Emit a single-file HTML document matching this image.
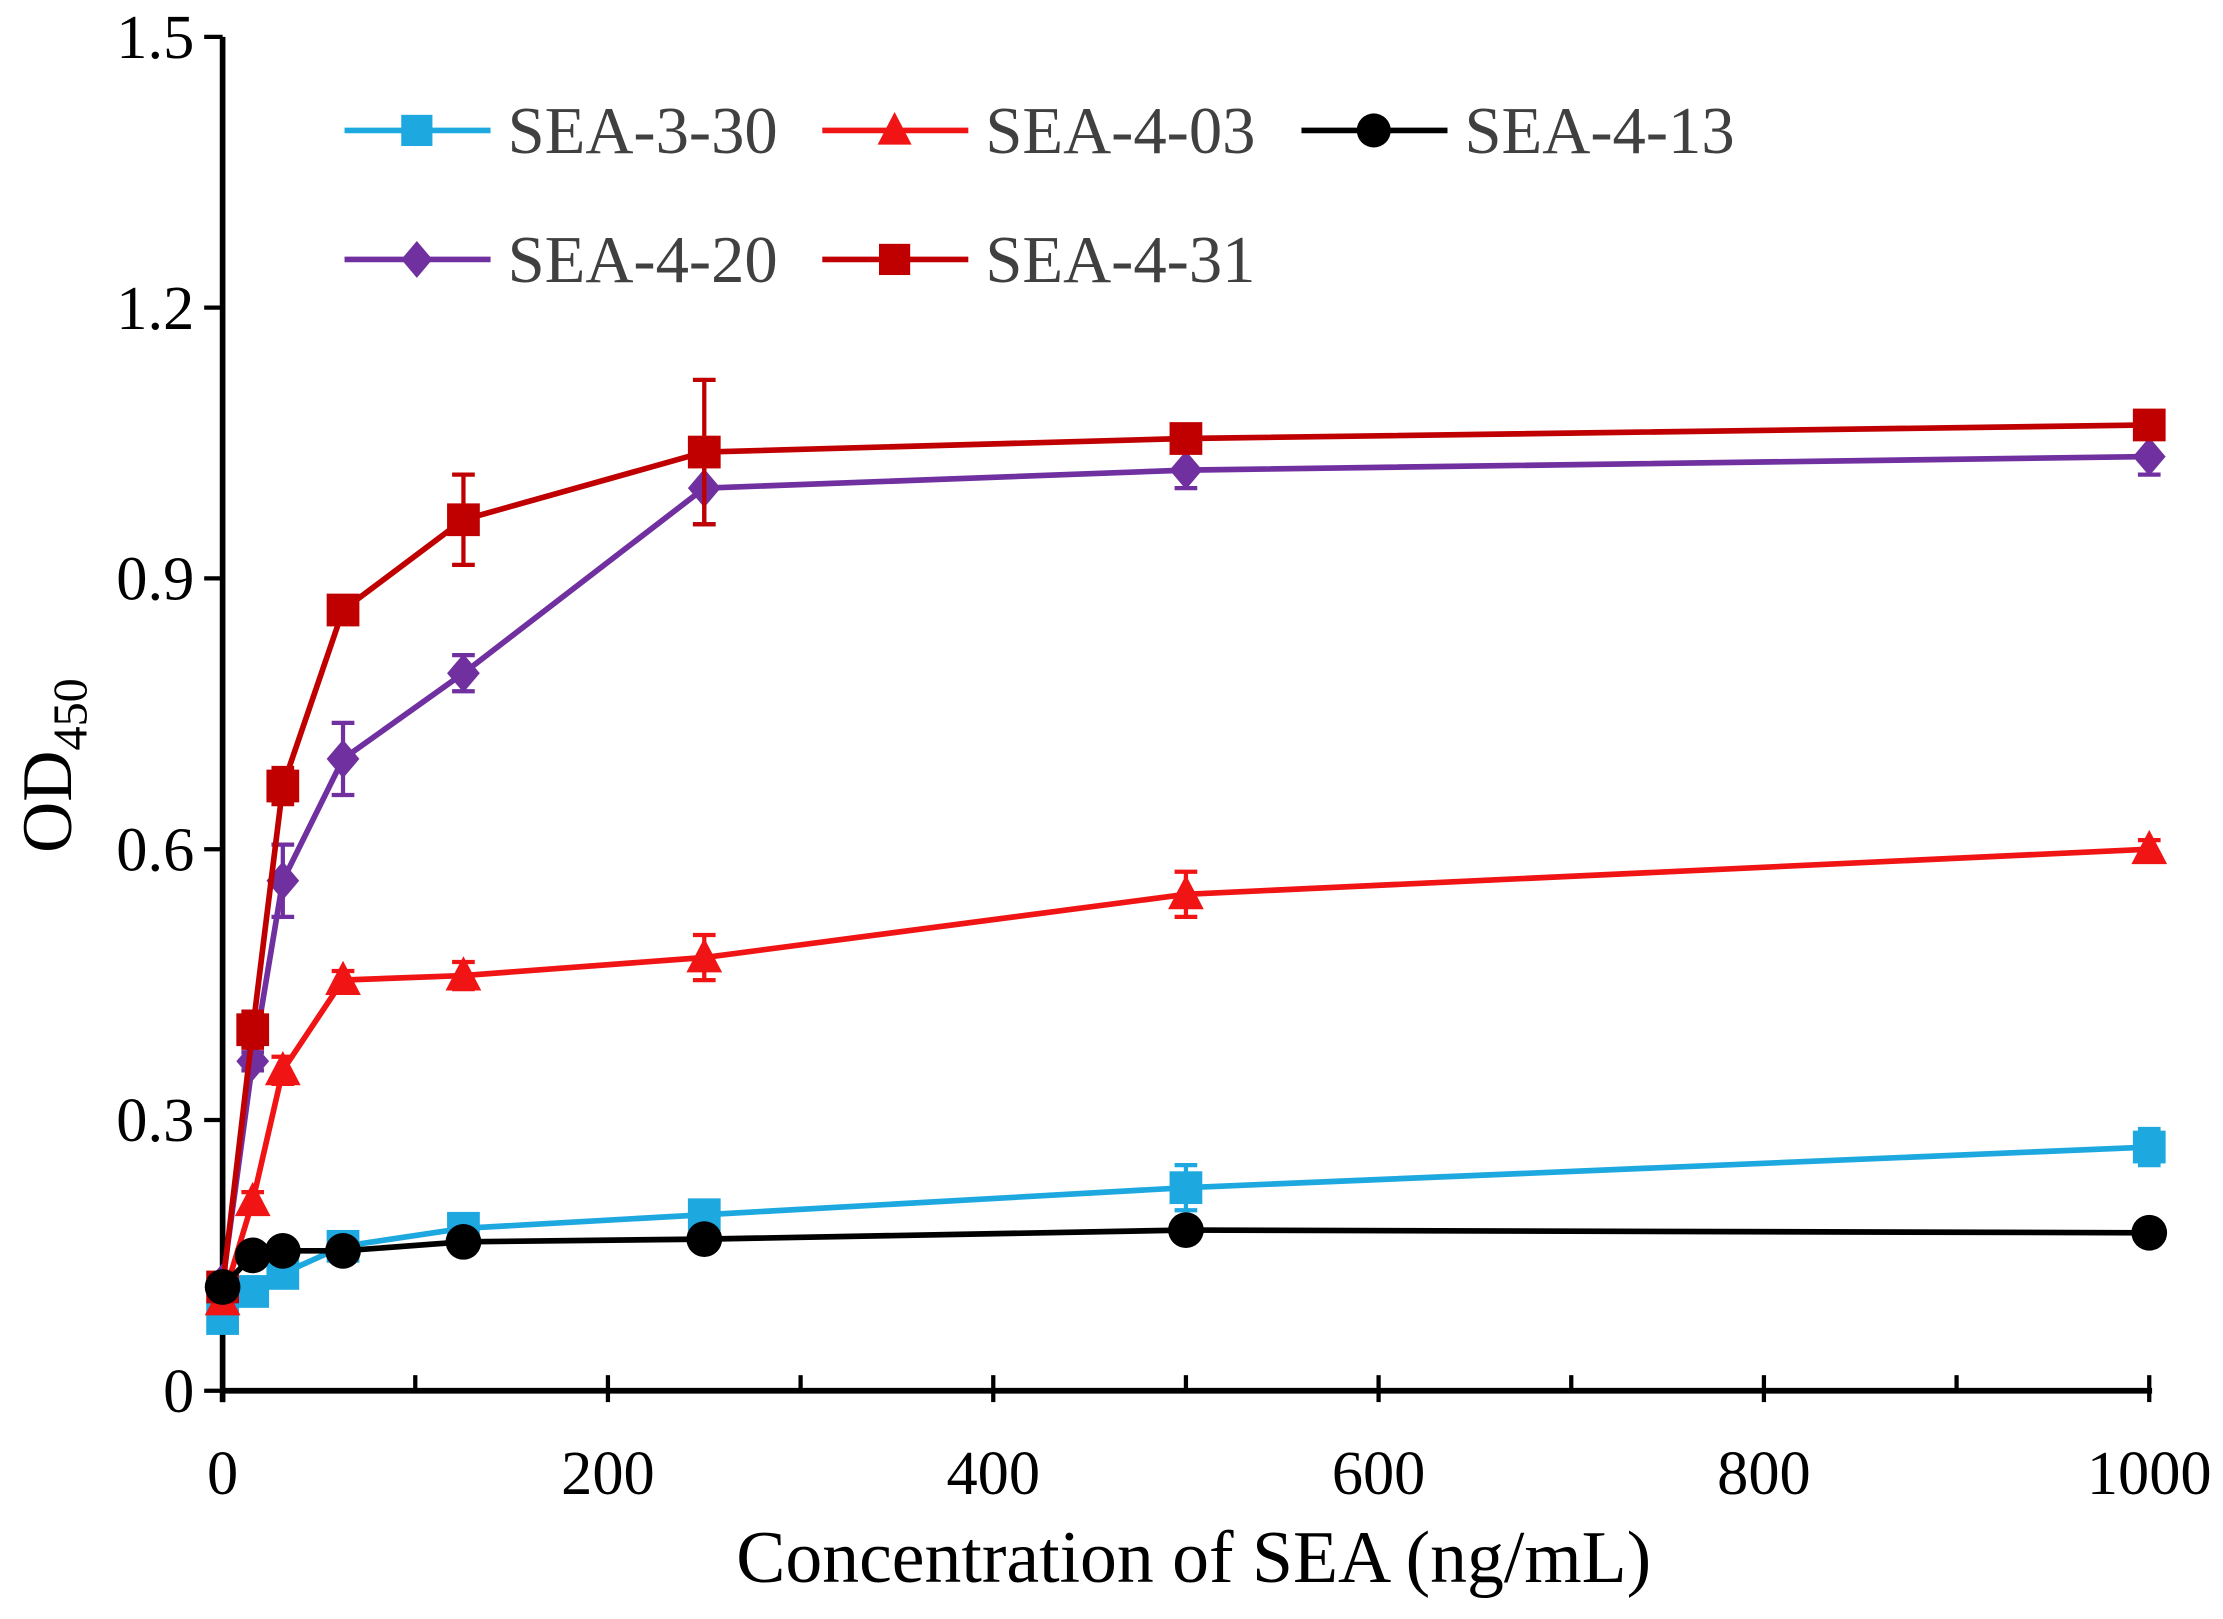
<!DOCTYPE html>
<html><head><meta charset="utf-8"><style>
html,body{margin:0;padding:0;background:#fff;}
svg{display:block;}
text{font-family:"Liberation Serif",serif;}
</style></head><body>
<svg id="chart" width="2223" height="1619" viewBox="0 0 1568 1142" xmlns="http://www.w3.org/2000/svg">
<g id="axes"></g><g id="series"></g><g id="legend"></g>
</svg>
<script>
const xs = [0, 15.625, 31.25, 62.5, 125, 250, 500, 1000];
const seriesNames = ["SEA-3-30","SEA-4-03","SEA-4-13","SEA-4-20","SEA-4-31"];
const sea330 = [0.08, 0.11, 0.13, 0.16, 0.18, 0.195, 0.225, 0.27];
const sea330err = [0.01, 0.01, 0.01, 0.01, 0.01, 0.01, 0.025, 0.02];
const sea403 = [0.10, 0.21, 0.355, 0.455, 0.46, 0.48, 0.55, 0.60];
const sea403err = [0.01, 0.01, 0.015, 0.01, 0.015, 0.025, 0.025, 0.01];
const sea413 = [0.115, 0.15, 0.155, 0.155, 0.165, 0.168, 0.178, 0.175];
const sea413err = [0.005, 0.005, 0.005, 0.005, 0.005, 0.005, 0.005, 0.005];
const sea420 = [0.12, 0.365, 0.565, 0.70, 0.795, 1.0, 1.02, 1.035];
const sea420err = [0.01, 0.01, 0.04, 0.04, 0.02, 0.04, 0.02, 0.02];
const sea431 = [0.115, 0.40, 0.67, 0.865, 0.965, 1.04, 1.055, 1.07];
const sea431err = [0.01, 0.02, 0.02, 0.01, 0.05, 0.08, 0.01, 0.01];
const xTicks = [0, 200, 400, 600, 800, 1000];
const xMinor = [100, 300, 500, 700, 900];
const yTicks = [0, 0.3, 0.6, 0.9, 1.2, 1.5];
const yTickLabels = ["0","0.3","0.6","0.9","1.2","1.5"];

const X0=157, X1=1516, Y0=981, Y1=26;
const sx = v => X0 + v/1000*(X1-X0);
const sy = v => Y0 - v/1.5*(Y0-Y1);
const NS="http://www.w3.org/2000/svg";
function mk(tag, attrs, parent){const e=document.createElementNS(NS,tag);for(const k in attrs)e.setAttribute(k,attrs[k]);parent.appendChild(e);return e;}
const axes=document.getElementById('axes'), ser=document.getElementById('series'), leg=document.getElementById('legend');

let e;
e=mk('line',{x1:X0,y1:Y0,x2:X1+2,y2:Y0,stroke:'#000','stroke-width':4},axes);

e=mk('line',{x1:X0,y1:Y0+8,x2:X0,y2:Y1,stroke:'#000','stroke-width':4},axes);

xTicks.forEach(t=>{
  e=mk('line',{x1:sx(t),y1:Y0-11,x2:sx(t),y2:Y0+8,stroke:'#000','stroke-width':3},axes);
  
  e=mk('text',{x:sx(t),y:1054,'text-anchor':'middle','font-size':44},axes);e.textContent=t;
  
});
xMinor.forEach(t=>{
  e=mk('line',{x1:sx(t),y1:Y0-11,x2:sx(t),y2:Y0,stroke:'#000','stroke-width':3},axes);
  
});
yTicks.forEach((t,i)=>{
  e=mk('line',{x1:X0-13,y1:sy(t),x2:X0,y2:sy(t),stroke:'#000','stroke-width':3},axes);
  
  e=mk('text',{x:X0-20,y:sy(t)+15,'text-anchor':'end','font-size':44},axes);e.textContent=yTickLabels[i];
  
});
e=mk('text',{x:842,y:1116,'text-anchor':'middle','font-size':52},axes);e.textContent='Concentration of SEA (ng/mL)';

e=mk('text',{transform:'translate(50,540) rotate(-90)','text-anchor':'middle','font-size':50},axes);

e.innerHTML='OD<tspan font-size="34" dy="11">450</tspan>';

function marker(type,x,y,color,parent,s){
  s=s||1;let m;
  if(type==='square') m=mk('rect',{x:x-11*s,y:y-11*s,width:22*s,height:22*s,fill:color},parent);
  else if(type==='triangle') m=mk('polygon',{points:`${x},${y-13*s} ${x-12*s},${y+10*s} ${x+12*s},${y+10*s}`,fill:color},parent);
  else if(type==='circle') m=mk('circle',{cx:x,cy:y,r:12*s,fill:color},parent);
  else m=mk('polygon',{points:`${x},${y-13*s} ${x+11*s},${y} ${x},${y+13*s} ${x-11*s},${y}`,fill:color},parent);
  return m;
}
const defs=[
 {name:seriesNames[0],vals:sea330,err:sea330err,color:'#1ea8e0',m:'square'},
 {name:seriesNames[1],vals:sea403,err:sea403err,color:'#f01414',m:'triangle'},
 {name:seriesNames[3],vals:sea420,err:sea420err,color:'#7030a0',m:'diamond'},
 {name:seriesNames[4],vals:sea431,err:sea431err,color:'#c00000',m:'square'},
 {name:seriesNames[2],vals:sea413,err:sea413err,color:'#000',m:'circle'}
];
defs.forEach(d=>{
  const g=mk('g',{},ser);
  
  e=mk('polyline',{points:xs.map((x,i)=>sx(x)+','+sy(d.vals[i])).join(' '),fill:'none',stroke:d.color,'stroke-width':4},g);
  
  xs.forEach((x,i)=>{
    const cx=sx(x),t=sy(d.vals[i]+d.err[i]),b=sy(d.vals[i]-d.err[i]);
    e=mk('path',{d:`M${cx},${t}V${b}M${cx-8},${t}H${cx+8}M${cx-8},${b}H${cx+8}`,stroke:d.color,'stroke-width':3,fill:'none'},g);
    
    e=marker(d.m,cx,sy(d.vals[i]),d.color,g,1.05);
    
  });
});
const legPos=[[243,92,0],[580,92,1],[918,92,4],[243,183,2],[580,183,3]];
legPos.forEach(p=>{
  const d=defs[p[2]];
  const g=mk('g',{},leg);
  
  mk('line',{x1:p[0],y1:p[1],x2:p[0]+103,y2:p[1],stroke:d.color,'stroke-width':4},g);
  marker(d.m,p[0]+51,p[1],d.color,g);
  e=mk('text',{x:p[0]+115,y:p[1]+16,'font-size':47,fill:'#404040'},g);e.textContent=d.name;
  
});
</script>
</body></html>
